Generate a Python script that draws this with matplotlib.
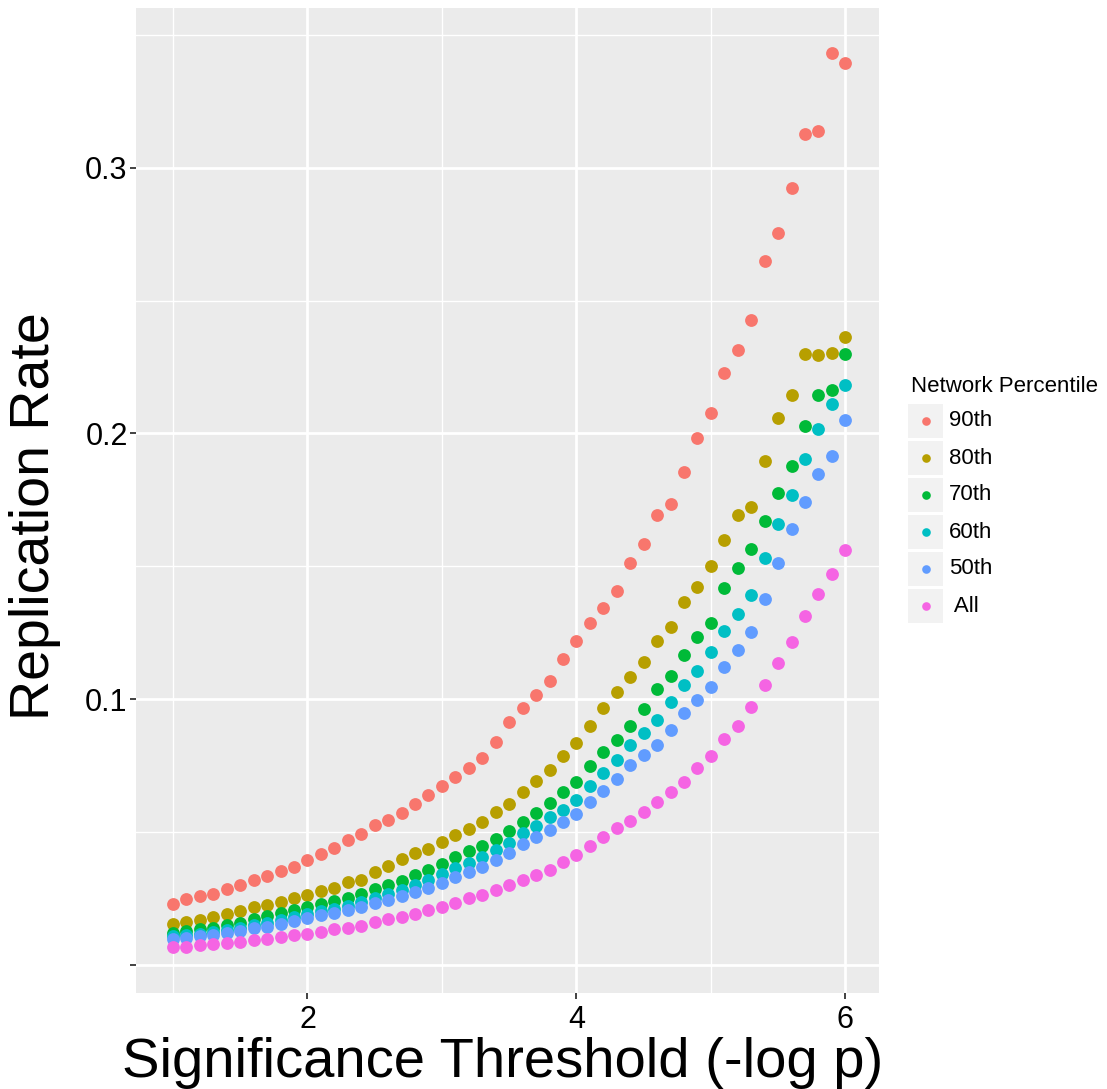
import matplotlib
matplotlib.use("Agg")
import matplotlib.pyplot as plt
from matplotlib.patches import Rectangle
from matplotlib.lines import Line2D

plt.rcParams['font.family'] = ['Liberation Sans', 'DejaVu Sans']

thresholds = [i / 10 for i in range(10, 61)]

series_labels = ["90th", "80th", "70th", "60th", "50th", " All"]
series_colors = ["#F8766D", "#B79F00", "#00BA38", "#00BFC4", "#619CFF", "#F564E3"]

p90 = [0.0228, 0.0246, 0.0257, 0.0267, 0.0286, 0.0298, 0.0318, 0.0332, 0.0351, 0.0368,
       0.0392, 0.0417, 0.0440, 0.0469, 0.0493, 0.0525, 0.0544, 0.0572, 0.0606, 0.0640,
       0.0672, 0.0706, 0.0740, 0.0778, 0.0838, 0.0913, 0.0967, 0.1015, 0.1067, 0.1152,
       0.1218, 0.1285, 0.1342, 0.1408, 0.1512, 0.1584, 0.1692, 0.1736, 0.1854, 0.1982,
       0.2076, 0.2229, 0.2313, 0.2429, 0.2651, 0.2755, 0.2925, 0.3128, 0.3138, 0.3432,
       0.3395]
p80 = [0.0153, 0.0161, 0.0168, 0.0178, 0.0191, 0.0202, 0.0215, 0.0223, 0.0235, 0.0249,
       0.0262, 0.0277, 0.0289, 0.0310, 0.0318, 0.0348, 0.0370, 0.0397, 0.0419, 0.0436,
       0.0461, 0.0488, 0.0509, 0.0536, 0.0574, 0.0606, 0.0649, 0.0692, 0.0731, 0.0787,
       0.0834, 0.0897, 0.0967, 0.1026, 0.1083, 0.1141, 0.1218, 0.1272, 0.1365, 0.1423,
       0.1502, 0.1599, 0.1693, 0.1722, 0.1898, 0.2057, 0.2144, 0.2301, 0.2296, 0.2304,
       0.2363]
p70 = [0.0120, 0.0127, 0.0133, 0.0139, 0.0149, 0.0157, 0.0173, 0.0184, 0.0193, 0.0204,
       0.0217, 0.0228, 0.0240, 0.0252, 0.0264, 0.0286, 0.0298, 0.0316, 0.0336, 0.0357,
       0.0379, 0.0404, 0.0428, 0.0446, 0.0474, 0.0503, 0.0537, 0.0569, 0.0607, 0.0649,
       0.0687, 0.0749, 0.0800, 0.0844, 0.0897, 0.0962, 0.1038, 0.1087, 0.1167, 0.1234,
       0.1286, 0.1419, 0.1495, 0.1566, 0.1670, 0.1775, 0.1879, 0.2029, 0.2144, 0.2164,
       0.2301]
p60 = [0.0107, 0.0112, 0.0117, 0.0123, 0.0131, 0.0138, 0.0150, 0.0158, 0.0167, 0.0178,
       0.0192, 0.0201, 0.0211, 0.0222, 0.0234, 0.0252, 0.0265, 0.0282, 0.0300, 0.0318,
       0.0341, 0.0363, 0.0381, 0.0406, 0.0431, 0.0456, 0.0496, 0.0521, 0.0554, 0.0582,
       0.0621, 0.0672, 0.0720, 0.0769, 0.0826, 0.0873, 0.0922, 0.0987, 0.1054, 0.1107,
       0.1177, 0.1257, 0.1320, 0.1391, 0.1530, 0.1660, 0.1769, 0.1903, 0.2016, 0.2111,
       0.2183]
p50 = [0.0097, 0.0101, 0.0106, 0.0112, 0.0119, 0.0126, 0.0136, 0.0143, 0.0152, 0.0163,
       0.0176, 0.0185, 0.0195, 0.0205, 0.0215, 0.0231, 0.0243, 0.0258, 0.0274, 0.0289,
       0.0308, 0.0331, 0.0347, 0.0368, 0.0394, 0.0419, 0.0453, 0.0479, 0.0508, 0.0537,
       0.0566, 0.0611, 0.0655, 0.0699, 0.0750, 0.0788, 0.0826, 0.0883, 0.0948, 0.0996,
       0.1044, 0.1119, 0.1186, 0.1252, 0.1376, 0.1512, 0.1640, 0.1742, 0.1846, 0.1916,
       0.2050]
p_all = [0.0067, 0.0067, 0.0072, 0.0077, 0.0081, 0.0086, 0.0092, 0.0096, 0.0105, 0.0111,
         0.0114, 0.0124, 0.0133, 0.0139, 0.0146, 0.0161, 0.0171, 0.0180, 0.0190, 0.0204,
         0.0215, 0.0233, 0.0249, 0.0262, 0.0281, 0.0298, 0.0318, 0.0337, 0.0356, 0.0385,
         0.0412, 0.0445, 0.0479, 0.0513, 0.0540, 0.0574, 0.0611, 0.0650, 0.0686, 0.0739,
         0.0786, 0.0848, 0.0897, 0.0969, 0.1053, 0.1134, 0.1215, 0.1314, 0.1395, 0.1471,
         0.1561]

series_values = [p90, p80, p70, p60, p50, p_all]

x_major = [2, 4, 6]
x_minor = [1, 3, 5]
y_major = [0.0, 0.1, 0.2, 0.3]
y_major_labels = ["", "0.1", "0.2", "0.3"]
y_minor = [0.05, 0.15, 0.25, 0.35]

W, H = 1107, 1089
fig = plt.figure(figsize=(W / 100, H / 100), dpi=100)
fig.patch.set_facecolor("white")
L, R, T, B = 136, 879, 8, 993
ax = fig.add_axes([L / W, 1 - B / H, (R - L) / W, (B - T) / H])
ax.set_facecolor("#EBEBEB")
for s in ax.spines.values():
    s.set_visible(False)

ax.set_xlim(0.725, 6.25)
ax.set_ylim(-0.0107, 0.3602)

ax.set_xticks(x_major)
ax.set_xticks(x_minor, minor=True)
ax.set_yticks(y_major)
ax.set_yticklabels(y_major_labels)
ax.set_yticks(y_minor, minor=True)
ax.grid(which="major", color="white", linewidth=2.0)
ax.grid(which="minor", color="white", linewidth=1.0)
ax.set_axisbelow(True)

ax.tick_params(axis="both", which="major", labelsize=22, colors="#333333",
               labelcolor="black", length=4, width=1.3)
ax.tick_params(axis="x", which="major", pad=5)
ax.tick_params(axis="y", which="major", pad=2)
ax.tick_params(which="minor", length=0)

for vals, col in zip(series_values, series_colors):
    ax.scatter(thresholds, vals, s=85, color=col, linewidths=0, zorder=3)

ax.set_xlabel("Significance Threshold (-log p)", fontsize=40.5, color="black")
ax.xaxis.set_label_coords((503 - L) / (R - L), (B - 1077) / (B - T))
ax.xaxis.label.set_va("baseline")
ax.set_ylabel("Replication Rate", fontsize=40, color="black")
ax.yaxis.set_label_coords((61 - L) / (R - L), (B - 516) / (B - T))

# legend (manual)
fig.text(911 / W, 1 - 386 / H, "Network Percentile", fontsize=16, ha="left", va="center")
row_y = [421, 458, 495, 532, 569, 606]
for yc, lab, col in zip(row_y, series_labels, series_colors):
    fig.add_artist(Rectangle((908 / W, 1 - (yc + 17) / H), 35 / W, 34 / H,
                             transform=fig.transFigure, facecolor="#F2F2F2",
                             edgecolor="none"))
    fig.add_artist(Line2D([925.5 / W], [1 - yc / H], marker="o", markersize=6.2,
                          color=col, markeredgewidth=0, linestyle="none",
                          transform=fig.transFigure))
    fig.text(949 / W, 1 - yc / H, lab, fontsize=16, ha="left", va="center")

fig.savefig("out.png", dpi=100)
